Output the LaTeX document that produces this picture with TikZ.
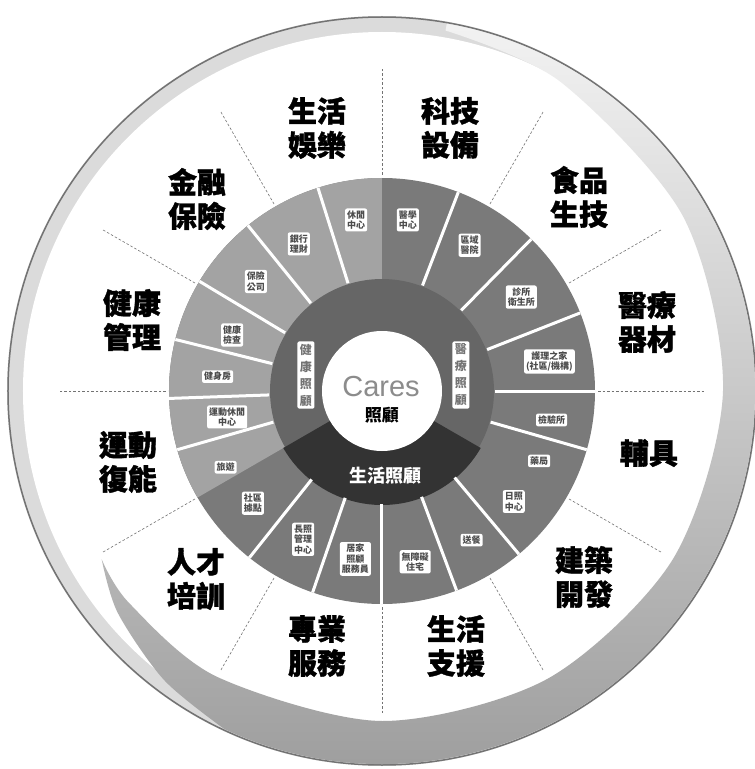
\documentclass[tikz,border=0pt]{standalone}
\usepackage{fontspec}
\newfontfamily\cjk{Noto Sans CJK TC}
\newfontfamily\cjkh{Noto Sans CJK TC}[BoldFeatures={FakeBold=1.2}]
\newfontfamily\latinsf{Liberation Sans}
\begin{document}
\begin{tikzpicture}[x=1pt,y=1pt,
  outerlab/.style={font=\cjkh\bfseries\fontsize{29}{34}\selectfont, align=center, text=black, inner sep=0pt},
  seglab/.style={font=\cjk\bfseries\fontsize{9}{10.5}\selectfont, align=center, fill=white, rounded corners=2pt, inner sep=2pt, text=black!70},
  vlab/.style={font=\cjk\bfseries\fontsize{12}{17}\selectfont, align=center, fill=white, rounded corners=1.5pt, inner sep=2.5pt, text=black!55},
  divider/.style={white, line width=3pt},
  sectorline/.style={black!55, line width=0.6pt, dash pattern=on 2.5pt off 2pt},
]
\useasboundingbox (-382,-378) rectangle (373,391);
\coordinate (O) at (0,0);
% outer band
\fill[black!14] (O) circle (375);
\fill[white] (O) circle (359);
\draw[black!55, line width=1.5pt] (O) circle (374);
% swoosh
\shade[top color=black!5, middle color=black!15, bottom color=black!40]
  plot[smooth] coordinates {(-149:327) (-140:345) (-127:362) (-115:373)}
  arc[start angle=-115, end angle=80, radius=373]
  -- plot[smooth] coordinates {(80:366) (60:357) (30:348) (0:341) (-30:336) (-60:332) (-90:330) (-120:330) (-140:330) (-149:327)}
  -- cycle;
% sector dashed lines
\foreach \a in {0,30,...,330} \draw[sectorline] (\a:216) -- (\a:322);
% middle ring
\fill[black!52] (O) circle (213);
\fill[black!36] (O) -- (90:213) arc[start angle=90, end angle=210, radius=213] -- cycle;
% inner band
\fill[black!60] (O) circle (112);
\fill[black!80] (O) -- (210:114) arc[start angle=210, end angle=330, radius=114] -- cycle;
% dividers
\foreach \a in {107.5,129,149,166,182,196,231.5,251,270,290.5,310,344,0,21.5,45.5,69}
  \draw[divider] (\a:113) -- (\a:213);
% centre
\fill[white] (O) circle (60);
\node[font=\latinsf\fontsize{29}{30}\selectfont, text=black!45, inner sep=0pt] (cares) at (-1,4) {Cares};
\node[font=\cjk\bfseries\fontsize{17}{18}\selectfont, inner sep=0pt] (zg) at (0,-24) {照顧};
\node[font=\cjk\bfseries\fontsize{18}{19}\selectfont, text=white, inner sep=0pt] (shzg) at (4,-85) {生活照顧};
\node[vlab] (yl) at (79,16) {醫\\療\\照\\顧};
\node[vlab] (jk) at (-76,16) {健\\康\\照\\顧};
% middle ring labels
\node[seglab] (m1) at (98.6:173) {休閒\\中心};
\node[seglab] (m2) at (81.4:173) {醫學\\中心};
\node[seglab] (m3) at (59:170) {區域\\醫院};
\node[seglab] (m4) at (34:168) {診所\\衛生所};
\node[seglab] (m5) at (10:170) {護理之家\\(社區/機構)};
\node[seglab] (m6) at (-9.7:172) {檢驗所};
\node[seglab] (m7) at (-24:172) {藥局};
\node[seglab] (m8) at (-40:172) {日照\\中心};
\node[seglab] (m9) at (-59:174) {送餐};
\node[seglab] (m10) at (-79:174) {無障礙\\住宅};
\node[seglab] (m11) at (-99:170) {居家\\照顧\\服務員};
\node[seglab] (m12) at (-118:168) {長照\\管理\\中心};
\node[seglab] (m13) at (-139:171) {社區\\據點};
\node[seglab] (m14) at (-154:174) {旅遊};
\node[seglab] (m15) at (189.5:157) {運動休閒\\中心};
\node[seglab] (m16) at (175:165) {健身房};
\node[seglab] (m17) at (159.5:160) {健康\\檢查};
\node[seglab] (m18) at (139:167) {保險\\公司};
\node[seglab] (m19) at (119.5:169) {銀行\\理財};
% outer labels
\node[outerlab] (o1) at (-65,263) {生活\\娛樂};
\node[outerlab] (o2) at (68,263) {科技\\設備};
\node[outerlab] (o3) at (197,194) {食品\\生技};
\node[outerlab] (o4) at (265,69) {醫療\\器材};
\node[outerlab] (o5) at (267,-62) {輔具};
\node[outerlab] (o6) at (202,-186) {建築\\開發};
\node[outerlab] (o7) at (74,-255) {生活\\支援};
\node[outerlab] (o8) at (-65,-255) {專業\\服務};
\node[outerlab] (o9) at (-186,-188) {人才\\培訓};
\node[outerlab] (o10) at (-254,-71) {運動\\復能};
\node[outerlab] (o11) at (-250,71) {健康\\管理};
\node[outerlab] (o12) at (-185,192) {金融\\保險};
\end{tikzpicture}
\end{document}
